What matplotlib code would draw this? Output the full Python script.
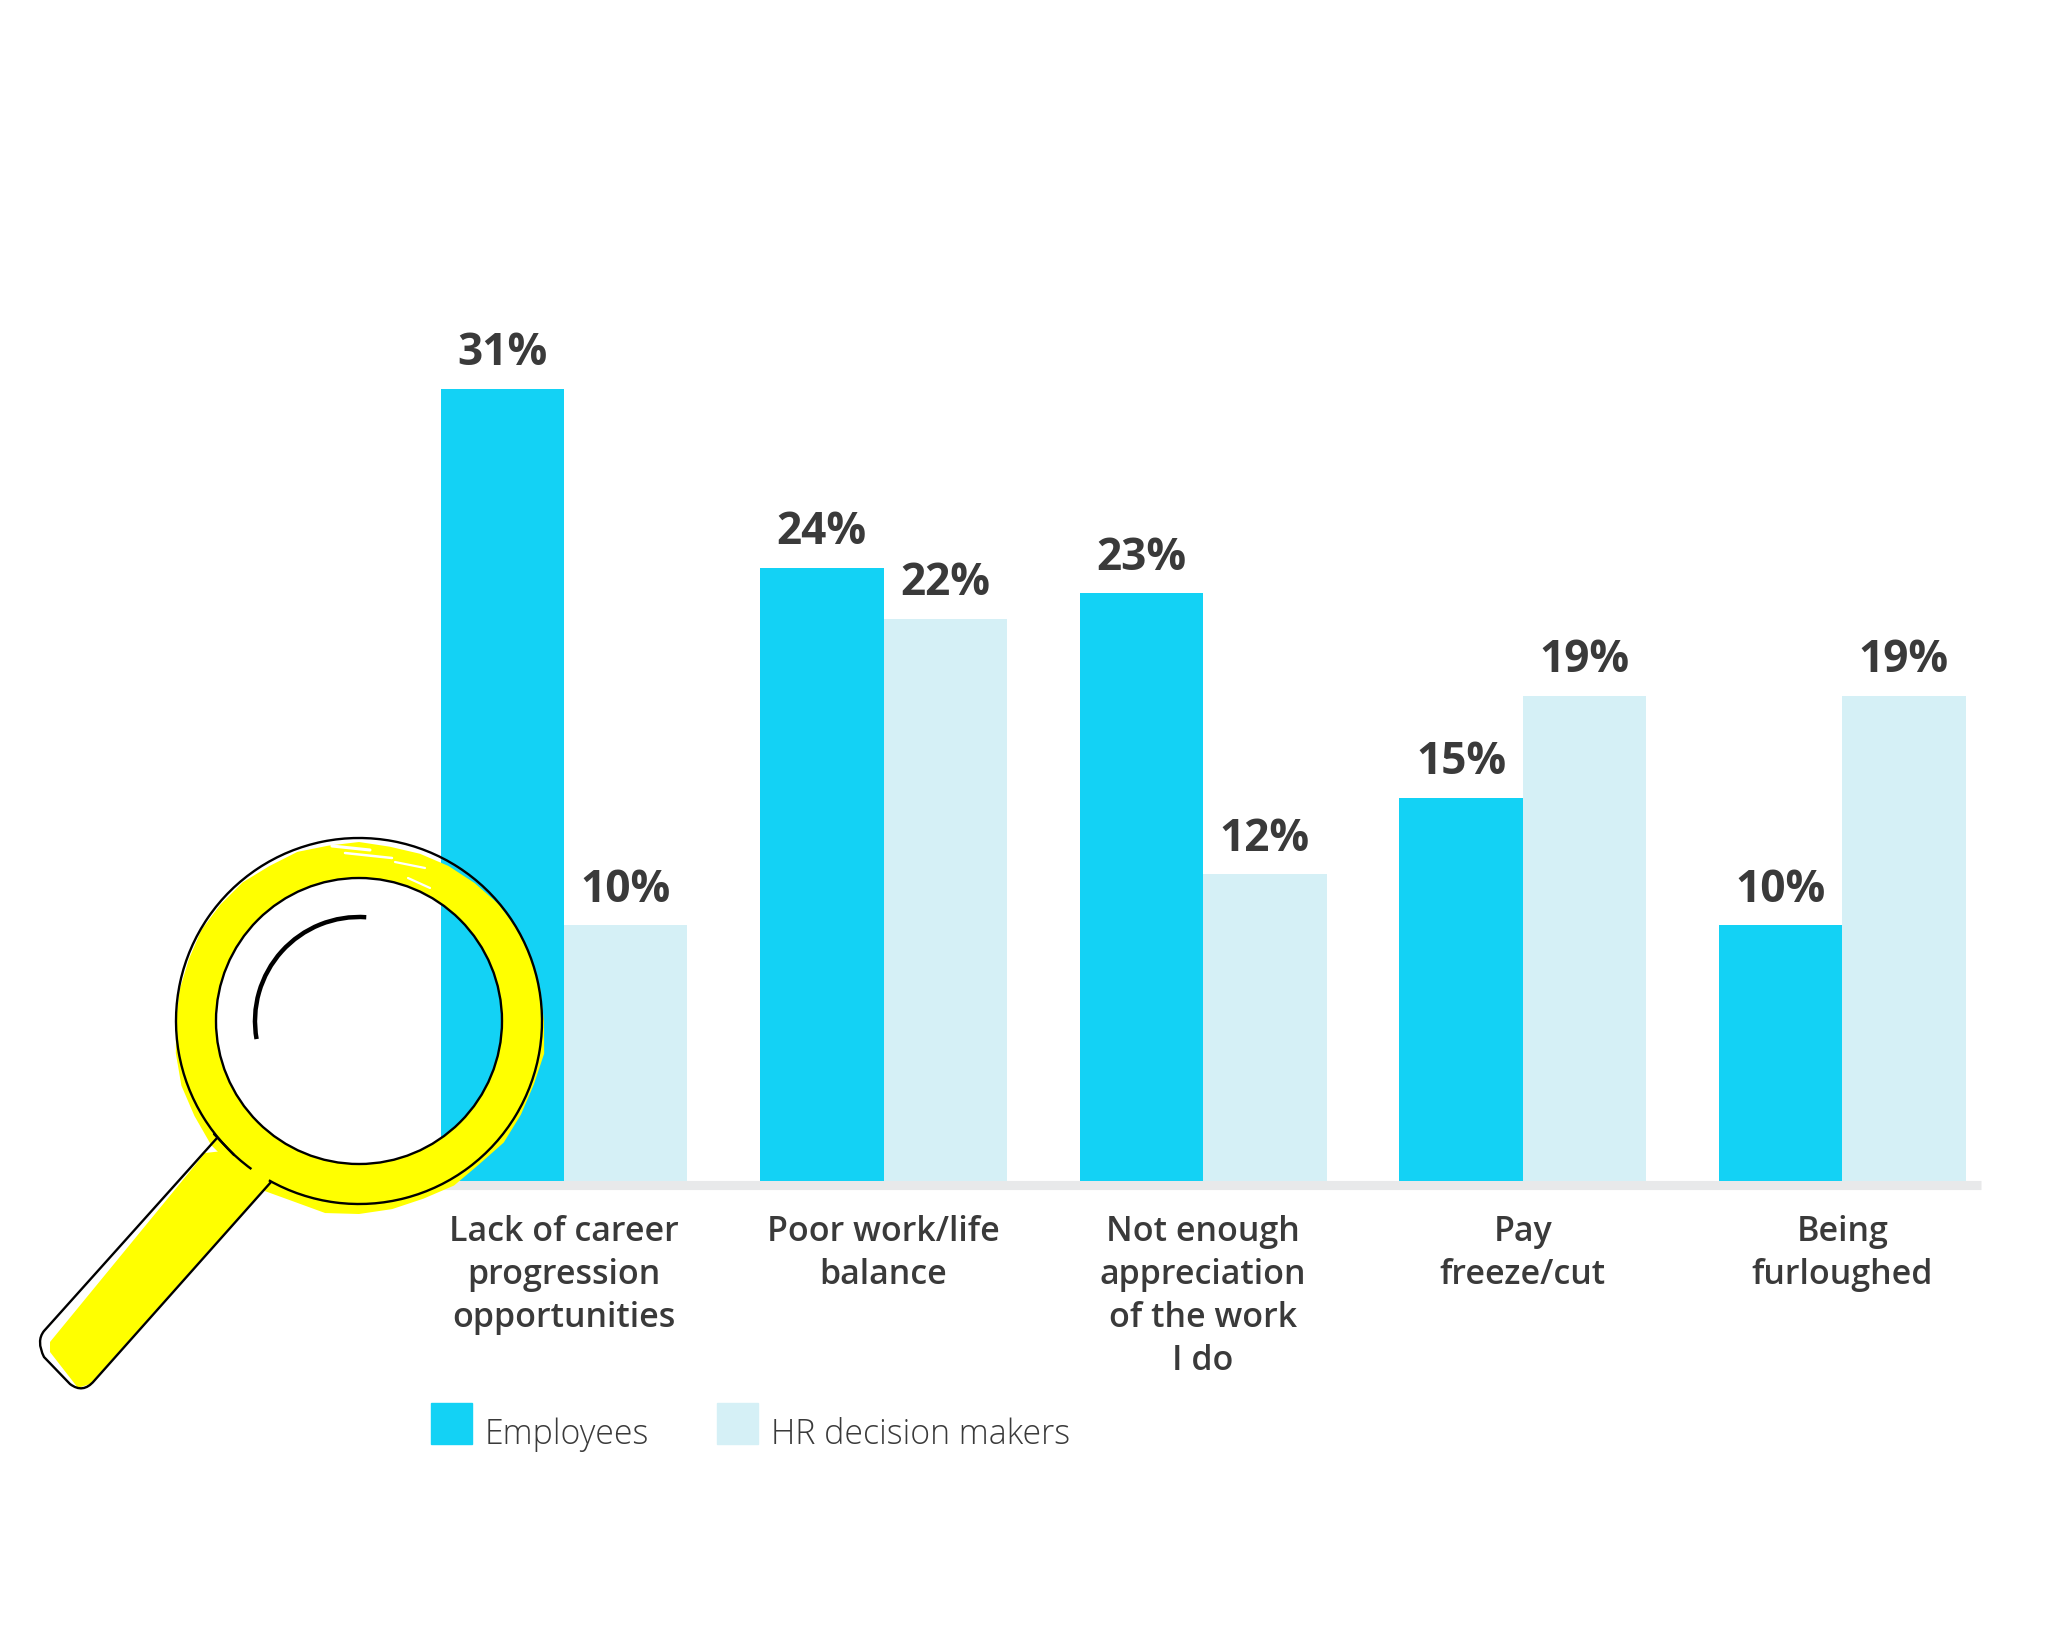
import numpy as np
import matplotlib
matplotlib.use("Agg")
import matplotlib.pyplot as plt
from matplotlib.patches import Circle, Polygon, Arc, Patch, Rectangle, PathPatch
from matplotlib.path import Path
from matplotlib.legend_handler import HandlerPatch

categories = ["Lack of career\nprogression\nopportunities", "Poor work/life\nbalance",
              "Not enough\nappreciation\nof the work\nI do", "Pay\nfreeze/cut", "Being\nfurloughed"]
employees = [31, 24, 23, 15, 10]
hr_makers = [10, 22, 12, 19, 19]
emp_labels = ["31%", "24%", "23%", "15%", "10%"]
hr_labels = ["10%", "22%", "12%", "19%", "19%"]
series_names = ["Employees", "HR decision makers"]
c_emp, c_hr = "#13D2F5", "#D5F0F6"
c_text = "#3A3A3A"

W, H = 2048, 1638
plt.rcParams["font.family"] = ["Open Sans", "DejaVu Sans"]
fig = plt.figure(figsize=(W/100, H/100), dpi=100, facecolor="white")
base = 1180.7
axh = 893.6
ax = fig.add_axes([440/W, (H-base)/H, (1981-440)/W, axh/H])
ax.patch.set_alpha(0)
for s in ["top", "left", "right"]:
    ax.spines[s].set_visible(False)
sp = ax.spines["bottom"]
sp.set_position(("outward", 3.3))
sp.set_color("#E8E9EA")
sp.set_linewidth(6.6)
sp.set_capstyle("butt")

x = np.arange(len(categories))
bw = 0.386
b1 = ax.bar(x-bw/2, employees, bw, color=c_emp, label=series_names[0], zorder=3)
b2 = ax.bar(x+bw/2, hr_makers, bw, color=c_hr, label=series_names[1], zorder=3)
ax.bar_label(b1, labels=emp_labels, padding=9.2, fontsize=31.8, fontweight="bold", color=c_text)
ax.bar_label(b2, labels=hr_labels, padding=9.2, fontsize=31.8, fontweight="bold", color=c_text)
ax.set_xlim(-0.388, 4.434)
ax.set_ylim(0, 35)
ax.set_yticks([])
ax.set_xticks(x, categories)
ax.tick_params(axis="x", length=0, pad=21.5)
for t in ax.get_xticklabels():
    t.set_fontsize(24.5)
    t.set_fontweight(600)
    t.set_color(c_text)
    t.set_linespacing(1.347)

def square(legend, orig_handle, xdescent, ydescent, width, height, fontsize):
    return Rectangle((0, 0), 29.5, 29.5)

leg = fig.legend(handles=[Patch(color=c_emp, label=series_names[0]), Patch(color=c_hr, label=series_names[1])],
                 handler_map={Patch: HandlerPatch(patch_func=square)},
                 loc="lower left", bbox_to_anchor=(431/W, 1-1452/H), bbox_transform=fig.transFigure,
                 ncols=2, frameon=False, fontsize=24.4, borderaxespad=0, borderpad=0,
                 handlelength=29.5/24.4, handleheight=0.7, handletextpad=0.38,
                 columnspacing=2.0, labelcolor=c_text)
for t in leg.get_texts():
    t.set_fontweight(300)

# magnifying glass decoration, overlay in pixel coordinates
ov = fig.add_axes([0, 0, 1, 1], zorder=5)
ov.set_xlim(0, W); ov.set_ylim(H, 0); ov.axis("off"); ov.patch.set_alpha(0)
cx, cy, Ro, Ri = 359, 1021, 183, 143
yellow = "#FFFF00"
# hand-read rough outer edge of the yellow paint: radius offsets every 10 degrees (0 = east, clockwise on screen)
edge = [2, 5, 3, 4, 6, 4, 7, 6, 8, 10, 12, 9, 12, 10, 10, 7, 6, 3, 0, -1, -2, -1, -2, -2, -4, -3, -5, -4,
        -6, -5, -4, -3, -1, 0, 0, 1]
ang = np.deg2rad(np.arange(0, 360, 10))
outer = np.column_stack([cx+(Ro+np.array(edge))*np.cos(ang), cy+(Ro+np.array(edge))*np.sin(ang)])
ang2 = np.deg2rad(np.arange(360, 0, -5))
inner = np.column_stack([cx+Ri*np.cos(ang2), cy+Ri*np.sin(ang2)])
ring = Path(np.vstack([outer, outer[:1], inner, inner[:1]]),
            [Path.MOVETO]+[Path.LINETO]*(len(outer)-1)+[Path.CLOSEPOLY]+[Path.MOVETO]+[Path.LINETO]*(len(inner)-1)+[Path.CLOSEPOLY])
ov.add_patch(Polygon([(205,1153),(232,1150),(270,1182),(90,1384),(78,1388),(50,1352),(50,1342)], closed=True, fc=yellow, ec="none"))
ov.add_patch(PathPatch(ring, fc=yellow, ec="none"))
# white flecks in the paint near the top
for (x0, y0, x1, y1, w) in [(332,846,370,850,2.2),(345,853,392,858,1.8),(395,862,425,868,1.6),(408,878,430,888,1.6),(250,865,262,858,1.5)]:
    ov.plot([x0, x1], [y0, y1], color="white", lw=w, solid_capstyle="round")
lw = 1.7
ov.add_patch(Circle((cx, cy), Ri, fc="none", ec="black", lw=lw))
ov.add_patch(Arc((cx, cy), 2*Ro, 2*Ro, angle=0, theta1=-234, theta2=119.5, ec="black", lw=lw))
ov.plot([214,234],[1134,1155], color="black", lw=lw, solid_capstyle="round")
verts = [(217,1138),(44,1331),(36,1341),(44,1357),(70,1384),(83,1394),(94,1381),(271,1182)]
codes = [Path.MOVETO, Path.LINETO, Path.CURVE3, Path.CURVE3, Path.LINETO, Path.CURVE3, Path.CURVE3, Path.LINETO]
ov.add_patch(PathPatch(Path(verts, codes), fc="none", ec="black", lw=lw))
ov.add_patch(Arc((cx, cy), 208, 208, angle=0, theta1=170, theta2=274, ec="black", lw=3.2))
fig.savefig("out.png", dpi=100, facecolor="white")
